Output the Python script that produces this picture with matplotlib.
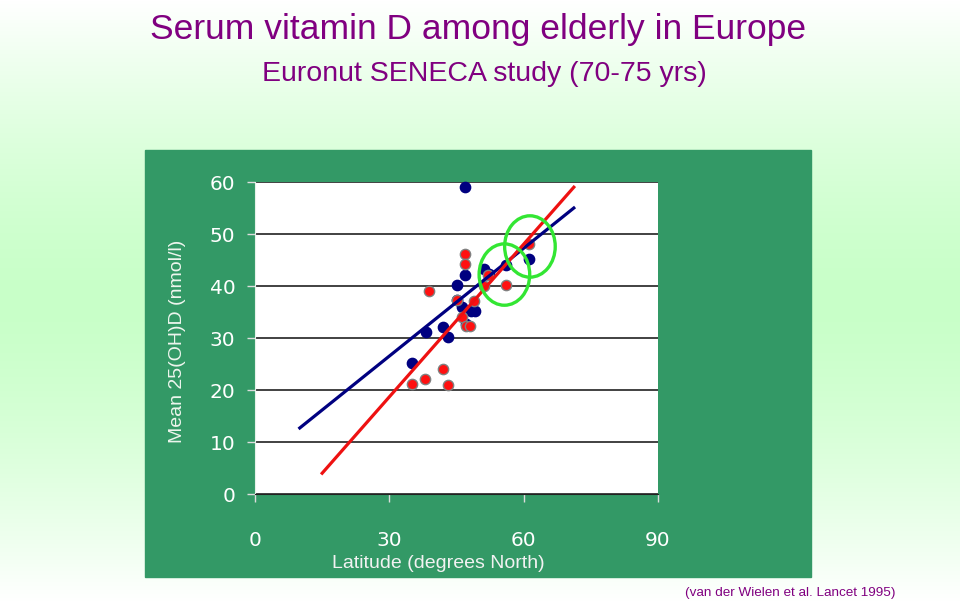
import numpy as np
import matplotlib
matplotlib.use('Agg')
import matplotlib.pyplot as plt
from matplotlib.patches import Ellipse, Rectangle
from matplotlib.colors import to_rgb

# points: latitude (deg N), mean 25(OH)D (nmol/l)
lat_blue = [47.0, 51.1, 52.3, 47.0, 61.2, 56.0, 45.1, 45.2, 46.2, 48.2, 49.1,
            47.1, 42.0, 38.1, 43.0, 35.0]
vit_blue = [59.1, 43.3, 42.3, 42.1, 45.1, 44.0, 40.1, 37.4, 36.0, 35.1, 35.1,
            32.6, 32.2, 31.1, 30.1, 25.1]

lat_red = [47.0, 47.0, 52.0, 51.2, 56.0, 61.2, 38.9, 49.0, 45.0, 46.2, 47.1,
           48.0, 35.0, 38.0, 42.0, 43.0]
vit_red = [46.2, 44.2, 42.2, 40.0, 40.1, 48.1, 39.1, 37.2, 37.3, 34.1, 32.3,
           32.3, 21.1, 22.1, 24.1, 21.0]

# fitted lines, end points as drawn
blue_line_x = [10.0, 71.2]
blue_line_y = [12.7, 55.0]
red_line_x = [15.0, 71.2]
red_line_y = [4.0, 59.0]

# green highlight circles
circle_x = [55.7, 61.4]
circle_y = [42.2, 47.6]

x_ticks = [0, 30, 60, 90]
y_ticks = [0, 10, 20, 30, 40, 50, 60]

title = "Serum vitamin D among elderly in Europe"
subtitle = "Euronut SENECA study (70-75 yrs)"
source = "(van der Wielen et al. Lancet 1995)"

W, H = 960, 602
fig = plt.figure(figsize=(W / 100, H / 100), dpi=100)

# background: white -> pale green -> white
bg = fig.add_axes([0, 0, 1, 1])
t = np.abs(np.linspace(-1, 1, 300))[:, None, None]
pale = np.array(to_rgb('#c8ffc8'))
grad = pale + (1 - pale) * t ** 1.5
bg.imshow(grad, aspect='auto', extent=[0, 1, 0, 1])
bg.add_patch(Rectangle((145 / W, 1 - 577 / H), 666 / W, 427 / H, color='#339966'))
bg.set_xlim(0, 1)
bg.set_ylim(0, 1)
bg.axis('off')

ax = fig.add_axes([255 / W, 1 - 494 / H, 403 / W, 312 / H])
ax.set_facecolor('white')
ax.set_xlim(0, 90)
ax.set_ylim(0, 60)
for y in y_ticks:
    ax.axhline(y, color='#333333', lw=1.3, zorder=1)

ax.spines['top'].set_visible(False)
ax.spines['right'].set_visible(False)
ax.spines['left'].set_color('#e6f2ea')
ax.spines['bottom'].set_color('#222222')
ax.set_xticks(x_ticks)
ax.set_yticks(y_ticks)
ax.tick_params(direction='out', length=6, width=1, color='#dddddd',
               labelcolor='white', labelsize=14.5)
ax.tick_params(axis='y', pad=8)
ax.tick_params(axis='x', pad=21)

ax.scatter(lat_blue, vit_blue, s=55, c='#000080', zorder=3, clip_on=False)
ax.scatter(lat_red, vit_red, s=55, c='#ff1010', edgecolors='#808080',
           linewidths=1, zorder=3, clip_on=False)
ax.plot(blue_line_x, blue_line_y, color='#000080', lw=2.3, zorder=4)
ax.plot(red_line_x, red_line_y, color='#ee1111', lw=2.3, zorder=4)
for cx, cy in zip(circle_x, circle_y):
    ax.add_patch(Ellipse((cx, cy), 11.3, 11.8, fill=False, ec='#33e633',
                         lw=2.4, zorder=5))

fig.text(478 / W, 1 - 30 / H, title, ha='center', va='center',
         color='#800080', fontsize=25.5, family='Liberation Sans')
fig.text(484 / W, 1 - 74 / H, subtitle, ha='center', va='center',
         color='#800080', fontsize=20.5, family='Liberation Sans')
fig.text(790 / W, 1 - 593 / H, source, ha='center', va='center',
         color='#800080', fontsize=9.7, family='Liberation Sans')
fig.text(438 / W, 1 - 563 / H, "Latitude (degrees North)", ha='center',
         va='center', color='#f2f2f2', fontsize=14, family='Liberation Sans')
fig.text(178 / W, 1 - 341 / H, "Mean 25(OH)D (nmol/l)", ha='center',
         va='center', rotation=90, color='#eef6ee', fontsize=14,
         family='Liberation Sans')

fig.savefig('out.png', dpi=100)
